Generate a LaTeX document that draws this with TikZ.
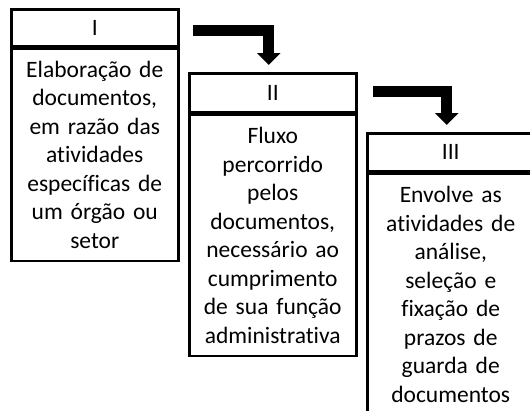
\documentclass[tikz,border=0pt]{standalone}
\usepackage{fontspec}
\setmainfont{Carlito}[Ligatures=NoCommon]
\usetikzlibrary{positioning,arrows.meta}

\tikzset{
  head/.style={draw, line width=2.5pt, minimum width=167pt, minimum height=37pt,
    inner sep=0pt, anchor=north west, font=\fontsize{23.5}{28}\selectfont},
  body/.style={draw, line width=2.5pt, minimum width=167pt, text width=163pt,
    align=center, inner sep=0pt, font=\fontsize{23.5}{28.5}\selectfont},
  bigarrow/.style={line width=11pt, -{Triangle[width=23pt,length=12pt]}, shorten >=7pt}
}

\begin{document}
\begin{tikzpicture}[x=1pt,y=-1pt]
\clip (0,0) rectangle (530,410);
\node[head] (hI) at (10,8) {I};
\node[body, minimum height=212pt, below=0pt of hI] (bI) {Elaboração de\\ documentos,\\ em razão das\\ atividades\\ específicas de\\ um órgão ou\\ setor};
\node[head, minimum height=39pt] (hII) at (188,72) {II};
\node[body, minimum height=241pt, below=0pt of hII] (bII) {Fluxo\\ percorrido\\ pelos\\ documentos,\\ necessário ao\\ cumprimento\\ de sua função\\ administrativa};
\node[head, minimum height=38pt] (hIII) at (366,132) {III};
\node[body, minimum height=241pt, below=0pt of hIII] (bIII) {Envolve as\\ atividades de\\ análise,\\ seleção e\\ fixação de\\ prazos de\\ guarda de\\ documentos};
% setas
\coordinate (a1) at (193,30);
\coordinate (a2) at (373,91);
\draw[bigarrow] (a1) -| ([xshift=-4pt]hII.north);
\draw[bigarrow] (a2) -| ([xshift=-4pt]hIII.north);
\end{tikzpicture}
\end{document}
